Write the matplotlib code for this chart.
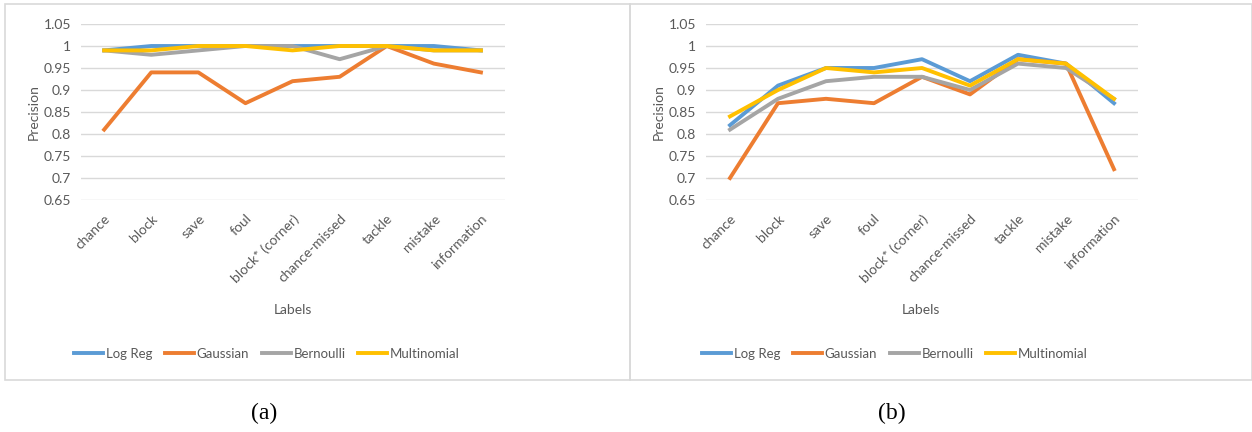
import matplotlib
matplotlib.use("Agg")
import matplotlib.pyplot as plt
from matplotlib.patches import Rectangle
from matplotlib.lines import Line2D

categories = ["chance", "block", "save", "foul", "block* (corner)",
              "chance-missed", "tackle", "mistake", "information"]
series_names = ["Log Reg", "Gaussian", "Bernoulli", "Multinomial"]

a_logreg = [0.99, 1.00, 1.00, 1.00, 1.00, 1.00, 1.00, 1.00, 0.99]
a_gauss = [0.81, 0.94, 0.94, 0.87, 0.92, 0.93, 1.00, 0.96, 0.94]
a_bern = [0.99, 0.98, 0.99, 1.00, 1.00, 0.97, 1.00, 0.99, 0.99]
a_multi = [0.99, 0.99, 1.00, 1.00, 0.99, 1.00, 1.00, 0.99, 0.99]

b_logreg = [0.82, 0.91, 0.95, 0.95, 0.97, 0.92, 0.98, 0.96, 0.87]
b_gauss = [0.70, 0.87, 0.88, 0.87, 0.93, 0.89, 0.97, 0.96, 0.72]
b_bern = [0.81, 0.88, 0.92, 0.93, 0.93, 0.90, 0.96, 0.95, 0.88]
b_multi = [0.84, 0.90, 0.95, 0.94, 0.95, 0.91, 0.97, 0.96, 0.88]

yticks = [0.65, 0.7, 0.75, 0.8, 0.85, 0.9, 0.95, 1.0, 1.05]
ytick_labels = ["0.65", "0.7", "0.75", "0.8", "0.85", "0.9", "0.95", "1", "1.05"]

colors = ["#5B9BD5", "#ED7D31", "#A5A5A5", "#FFC000"]
text_col = "#595959"
FONT = "Lato"
FS = 10

W, H = 1252, 432
fig = plt.figure(figsize=(W / 100, H / 100), dpi=100)

# panel frames
fig.patches.append(Rectangle((5 / W, 1 - 380 / H), (630 - 5) / W, (380 - 4) / H,
                             transform=fig.transFigure, fill=False,
                             edgecolor="#D9D9D9", lw=1.2))
fig.patches.append(Rectangle((630 / W, 1 - 380 / H), (1252 - 630) / W, (380 - 4) / H,
                             transform=fig.transFigure, fill=False,
                             edgecolor="#D9D9D9", lw=1.2))


def make_panel(x0, x1, data, legend_cx, caption, caption_x, ylab_x, xlab_x):
    ax = fig.add_axes([x0 / W, 1 - 200 / H, (x1 - x0) / W, (200 - 24) / H])
    xs = list(range(len(categories)))
    for vals, c, name in zip(data, colors, series_names):
        ax.plot(xs, vals, color=c, lw=2.8, label=name, solid_joinstyle="round")
    ax.set_xlim(-0.5, len(categories) - 0.5)
    ax.set_ylim(0.65, 1.05)
    ax.set_yticks(yticks)
    ax.set_yticklabels(ytick_labels, fontsize=FS, color=text_col, family=FONT)
    ax.set_xticks(xs)
    ax.set_xticklabels(categories, rotation=45, ha="right", rotation_mode="anchor",
                       fontsize=FS, color=text_col, family=FONT)
    ax.tick_params(length=0, pad=7)
    ax.tick_params(axis="x", pad=9)
    ax.grid(axis="y", color="#D9D9D9", lw=1)
    ax.set_axisbelow(True)
    for s in ax.spines.values():
        s.set_visible(False)
    fig.text(ylab_x / W, 1 - 112 / H, "Precision", rotation=90, ha="center", va="center",
             fontsize=FS, color=text_col, family=FONT)
    fig.text(xlab_x / W, 1 - 310 / H, "Labels", ha="center", va="center",
             fontsize=FS, color=text_col, family=FONT)
    handles = [Line2D([0], [0], color=c, lw=2.8) for c in colors]
    fig.legend(handles, series_names, loc="center", bbox_to_anchor=(legend_cx / W, 1 - 354 / H),
               ncol=4, frameon=False, handlelength=2.2, handletextpad=0.2,
               columnspacing=0.95, prop={"family": FONT, "size": 9.5},
               labelcolor=text_col)
    fig.text(caption_x / W, 1 - 413 / H, caption, ha="center", va="center",
             fontsize=17, family="Liberation Serif", color="black")
    return ax


make_panel(80.6, 504.5, [a_logreg, a_gauss, a_bern, a_multi], 267, "(a)", 264, 34, 293)
make_panel(706, 1138, [b_logreg, b_gauss, b_bern, b_multi], 895, "(b)", 892, 659, 921)

fig.savefig("out.png", dpi=100)
